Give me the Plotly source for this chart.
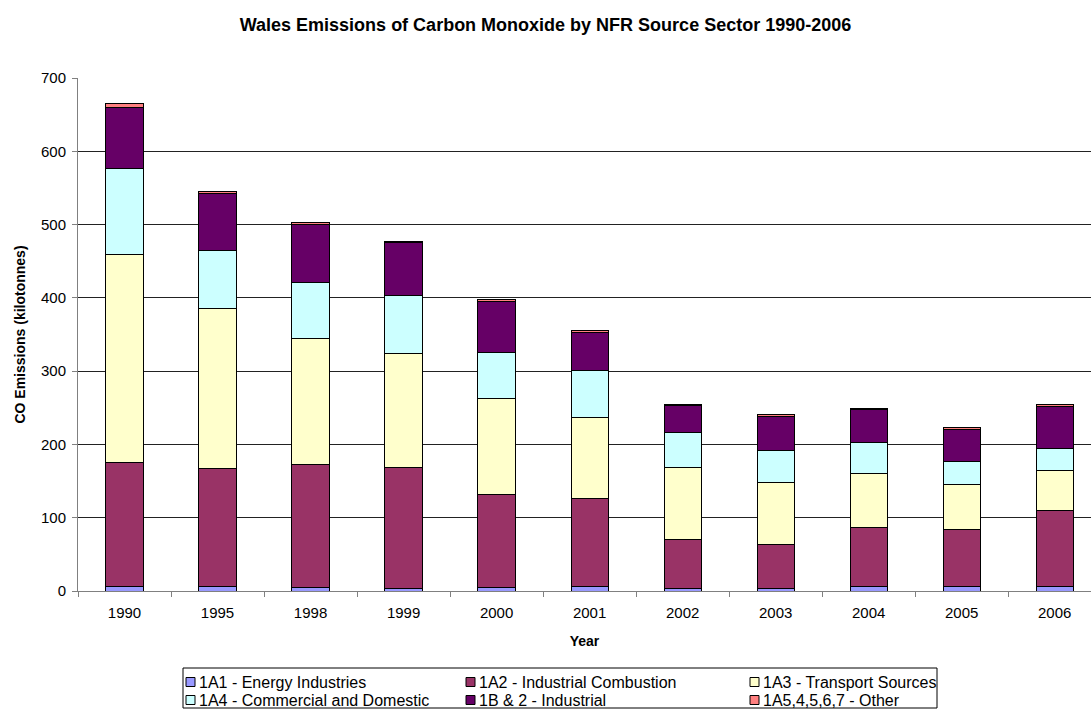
import plotly.graph_objects as go

years = ["1990", "1995", "1998", "1999", "2000", "2001", "2002", "2003", "2004", "2005", "2006"]
energy = [6.5, 6, 4.5, 3.5, 4.5, 5.5, 3.5, 3.5, 5.5, 5.5, 5.5]
industrial_comb = [169, 161, 167.5, 164.5, 127.5, 121, 67, 60.5, 81.5, 78.5, 105]
transport = [284, 218, 173, 156, 130, 110, 97.5, 84, 73.5, 61, 54.5]
commercial = [117, 80, 76, 79, 63, 64.5, 48.5, 44, 41.5, 32, 29.7]
industrial = [83, 77, 79, 72, 70.6, 51.5, 36, 45.5, 45, 44, 57.3]
other = [5.5, 3, 2.5, 2.5, 2.4, 3.5, 2.5, 3, 2.5, 2.7, 2.7]

series_names = ["1A1 - Energy Industries", "1A2 - Industrial Combustion", "1A3 - Transport Sources",
                "1A4 - Commercial and Domestic", "1B & 2 - Industrial", "1A5,4,5,6,7 - Other"]
series_values = [energy, industrial_comb, transport, commercial, industrial, other]
series_colors = ["#9999FF", "#993366", "#FFFFCC", "#CCFFFF", "#660066", "#FF8080"]

W, H = 1091, 711
ML, MR, MT, MB = 78, 0, 78, 120
PW = W - ML - MR
PH = H - MT - MB

def px_x(px):
    return (px - ML) / PW

def px_y(py):
    return (H - MB - py) / PH

fig = go.Figure()
for name, vals, col in zip(series_names, series_values, series_colors):
    fig.add_trace(go.Bar(
        x=years, y=vals, name=name, showlegend=False,
        marker=dict(color=col, line=dict(color="black", width=1)),
    ))

font = "Arial, Liberation Sans, sans-serif"

# custom legend (box, swatches, labels)
shapes = [dict(type="rect", xref="paper", yref="paper",
               x0=px_x(183), x1=px_x(937), y0=px_y(668), y1=px_y(708),
               line=dict(color="black", width=1), fillcolor="white", layer="above")]
annotations = []
col_sq = [186, 466, 750]
row_y = [682, 700]
for i, (name, col) in enumerate(zip(series_names, series_colors)):
    r, c = divmod(i, 3)
    sx = col_sq[c]
    cy = row_y[r]
    shapes.append(dict(type="rect", xref="paper", yref="paper",
                       x0=px_x(sx), x1=px_x(sx + 9), y0=px_y(cy - 4.5), y1=px_y(cy + 4.5),
                       line=dict(color="black", width=1), fillcolor=col, layer="above"))
    annotations.append(dict(text=name, xref="paper", yref="paper",
                            x=px_x(sx + 11), y=px_y(cy), xanchor="left", yanchor="middle",
                            showarrow=False, font=dict(size=16, family=font, color="black")))

fig.update_layout(
    barmode="stack",
    bargap=0.6,
    width=W, height=H,
    margin=dict(l=ML, r=MR, t=MT, b=MB, autoexpand=False),
    paper_bgcolor="white", plot_bgcolor="white",
    font=dict(family=font, size=15, color="black"),
    showlegend=False,
    title=dict(text="<b>Wales Emissions of Carbon Monoxide by NFR Source Sector 1990-2006</b>",
               x=0.5, xref="container", y=1 - 25 / H, yref="container",
               xanchor="center", yanchor="middle",
               font=dict(size=18, family=font, color="black")),
    xaxis=dict(
        type="category", range=[-0.5, 10.39],
        showline=True, linecolor="#808080", linewidth=1,
        ticks="outside", tickson="boundaries", ticklen=5, tickcolor="#808080",
        ticklabelstandoff=8,
        showgrid=False,
        title=dict(text="<b>Year</b>", font=dict(size=14), standoff=16),
    ),
    yaxis=dict(
        range=[0, 700], dtick=100,
        showline=True, linecolor="#808080", linewidth=1,
        ticks="outside", ticklen=5, tickcolor="#808080",
        ticklabelstandoff=3,
        showgrid=True, gridcolor="#222222", gridwidth=1,
        zeroline=False,
        title=dict(text="<b>CO Emissions (kilotonnes)</b>", font=dict(size=14), standoff=12),
    ),
    shapes=shapes,
    annotations=annotations,
)

fig.write_html("out.html")
